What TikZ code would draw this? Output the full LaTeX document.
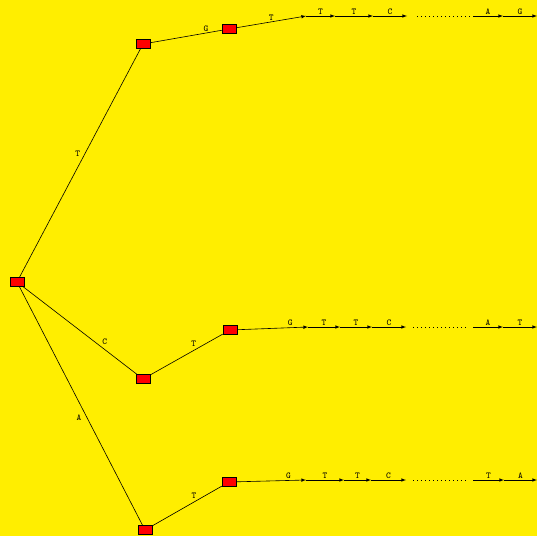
\documentclass[tikz,border=0pt]{standalone}
\usepackage{tikz}
\usetikzlibrary{arrows,positioning}
\usepackage{xcolor}
\definecolor{bgyellow}{RGB}{255,238,0}
\definecolor{boxred}{RGB}{255,0,0}
\tikzstyle{seqbox} = [rectangle, draw=black, fill=boxred, minimum width=14pt, minimum height=9pt, inner sep=0pt, line width=0.5pt]
\tikzstyle{link} = [line width=0.6pt, color=black]
\tikzstyle{arrow} = [link, ->, >=latex]
\tikzstyle{lbl} = [font=\small\ttfamily, inner sep=1.5pt]
\tikzstyle{gap} = [line width=0.6pt, dash pattern=on 0.8pt off 3.2pt]

\begin{document}
\begin{tikzpicture}[x=1pt, y=-1pt]
% background
\useasboundingbox (0,0) rectangle (537,536);
\fill[bgyellow] (0,0) rectangle (537,536);

% tree boxes
\node[seqbox] (root) at (17,282) {};
\node[seqbox] (t1) at (143,44) {};
\node[seqbox] (t2) at (229,29) {};
\node[seqbox] (c1) at (143,379) {};
\node[seqbox] (c2) at (230,330) {};
\node[seqbox] (a1) at (145,530) {};
\node[seqbox] (a2) at (229,482) {};

% branches
\draw[link] (root) -- node[lbl, pos=0.54, left=3pt] {T} (t1);
\draw[link] (t1) -- node[lbl, pos=0.78, above] {G} (t2);
\draw[link] (root) -- node[lbl, pos=0.68, above right] {C} (c1);
\draw[link] (c1) -- node[lbl, pos=0.6, above=2pt] {T} (c2);
\draw[link] (root) -- node[lbl, pos=0.55, left=4pt] {A} (a1);
\draw[link] (a1) -- node[lbl, pos=0.6, above=2pt] {T} (a2);

% upper sequence
\coordinate (u1) at (306,16);
\coordinate (u2) at (335,16);
\coordinate (u3) at (373,16);
\coordinate (u4) at (407,16);
\coordinate (u5) at (417,16);
\coordinate (u6) at (470,16);
\coordinate (u7) at (473,16);
\coordinate (u8) at (503,16);
\coordinate (u9) at (537,16);
\draw[arrow] (t2) -- node[lbl, above] {T} (u1);
\draw[arrow] (u1) -- node[lbl, above] {T} (u2);
\draw[arrow] (u2) -- node[lbl, above] {T} (u3);
\draw[arrow] (u3) -- node[lbl, above] {C} (u4);
\draw[gap] (u5) -- (u6);
\draw[arrow] (u7) -- node[lbl, above] {A} (u8);
\draw[arrow] (u8) -- node[lbl, above] {G} (u9);

% middle sequence
\coordinate (m1) at (308,327);
\coordinate (m2) at (340,327);
\coordinate (m3) at (372,327);
\coordinate (m4) at (406,327);
\coordinate (m5) at (413,327);
\coordinate (m6) at (466,327);
\coordinate (m7) at (473,327);
\coordinate (m8) at (503,327);
\coordinate (m9) at (537,327);
\draw[arrow] (c2) -- node[lbl, pos=0.75, above] {G} (m1);
\draw[arrow] (m1) -- node[lbl, above] {T} (m2);
\draw[arrow] (m2) -- node[lbl, above] {T} (m3);
\draw[arrow] (m3) -- node[lbl, above] {C} (m4);
\draw[gap] (m5) -- (m6);
\draw[arrow] (m7) -- node[lbl, above] {A} (m8);
\draw[arrow] (m8) -- node[lbl, above] {T} (m9);

% lower sequence
\coordinate (l1) at (306,480);
\coordinate (l2) at (344,480);
\coordinate (l3) at (371,480);
\coordinate (l4) at (406,480);
\coordinate (l5) at (413,480);
\coordinate (l6) at (466,480);
\coordinate (l7) at (473,480);
\coordinate (l8) at (504,480);
\coordinate (l9) at (537,480);
\draw[arrow] (a2) -- node[lbl, pos=0.75, above] {G} (l1);
\draw[arrow] (l1) -- node[lbl, above] {T} (l2);
\draw[arrow] (l2) -- node[lbl, above] {T} (l3);
\draw[arrow] (l3) -- node[lbl, above] {C} (l4);
\draw[gap] (l5) -- (l6);
\draw[arrow] (l7) -- node[lbl, above] {T} (l8);
\draw[arrow] (l8) -- node[lbl, above] {A} (l9);
\end{tikzpicture}
\end{document}
